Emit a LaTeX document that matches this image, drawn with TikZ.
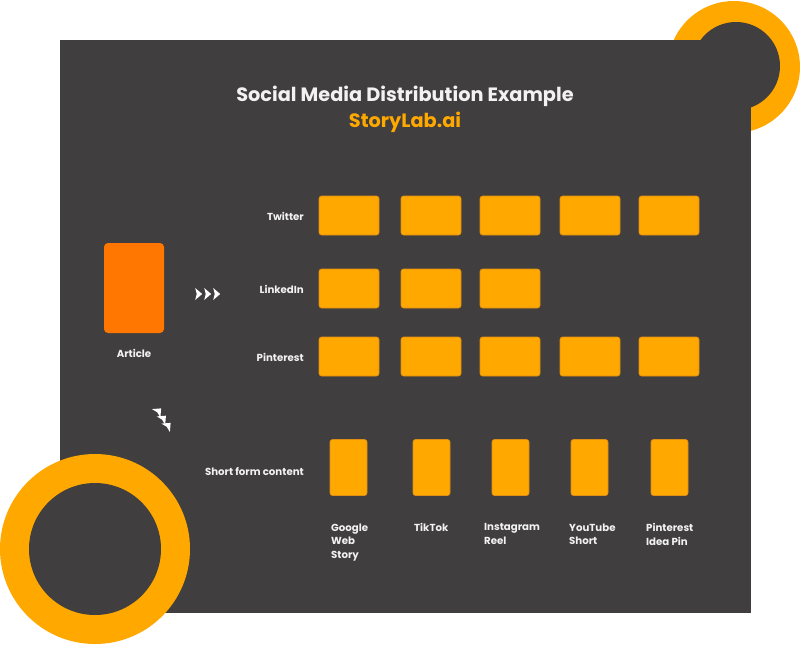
\documentclass[tikz,border=0pt]{standalone}
\usepackage{fontspec}
\setmainfont{Poppins}
\definecolor{bgdark}{RGB}{64,62,63}
\definecolor{boxor}{RGB}{255,168,0}
\definecolor{boxedge}{RGB}{222,142,18}
\definecolor{artor}{RGB}{255,119,0}
\definecolor{txt}{RGB}{242,242,242}
\tikzset{
  wbox/.style={fill=boxor, draw=boxedge, line width=0.6pt, rounded corners=2.5pt, minimum width=60pt, minimum height=39pt, inner sep=0pt},
  tbox/.style={fill=boxor, draw=boxedge, line width=0.6pt, rounded corners=2.5pt, minimum width=37pt, minimum height=56pt, inner sep=0pt},
  artbox/.style={fill=artor, rounded corners=4pt, minimum width=60pt, minimum height=90pt, inner sep=0pt},
  lbl/.style={text=txt, font=\fontsize{10.2}{13.4}\selectfont\bfseries, inner sep=0pt},
  sublbl/.style={text=txt, font=\fontsize{10.2}{13.4}\selectfont\bfseries, inner sep=0pt, align=left, anchor=north west},
  chev/.pic={\fill[white] (-3.3,-6) -- (3.7,0) -- (-3.3,6) -- (-1.8,0) -- cycle;}
}
\begin{document}
\begin{tikzpicture}[x=1pt,y=-1pt]
\useasboundingbox (0,0) rectangle (800,645);
% decorative circles and panel
\fill[boxor] (734,67) circle (66);
\fill[bgdark] (60,40) rectangle (751,613);
\fill[bgdark] (736,66) circle (44);
\fill[boxor] (95,549) circle (95);
\fill[bgdark] (95,549) circle (66);
% title
\node[text=txt, font=\fontsize{19.3}{21}\selectfont\bfseries, inner sep=0pt] (title) at (405,96) {Social Media Distribution Example};
\node[text=boxor, font=\fontsize{19.3}{21}\selectfont\bfseries, inner sep=0pt] (brand) at (405,122) {StoryLab.ai};
% article
\node[artbox] (article) at (134,288) {};
\node[lbl] (articlelbl) at (134,353) {Article};
% arrows
\pic at (198.5,294) {chev};
\pic at (207.5,294) {chev};
\pic at (216.5,294) {chev};
\pic[rotate=45] at (158.5,411) {chev};
\pic[rotate=45] at (163.3,418.3) {chev};
\pic[rotate=45] at (168,425.5) {chev};
% row labels
\node[lbl, anchor=east] (twlbl) at (304,216) {Twitter};
\node[lbl, anchor=east] (lilbl) at (304,289) {LinkedIn};
\node[lbl, anchor=east] (pilbl) at (304,357) {Pinterest};
\node[lbl, anchor=east] (sflbl) at (304,472) {Short form content};
% twitter row
\node[wbox] (tw1) at (349,215.5) {};
\node[wbox] (tw2) at (431,215.5) {};
\node[wbox] (tw3) at (510,215.5) {};
\node[wbox] (tw4) at (590,215.5) {};
\node[wbox] (tw5) at (669,215.5) {};
% linkedin row
\node[wbox] (li1) at (349,288.5) {};
\node[wbox] (li2) at (431,288.5) {};
\node[wbox] (li3) at (510,288.5) {};
% pinterest row
\node[wbox] (pi1) at (349,356.5) {};
\node[wbox] (pi2) at (431,356.5) {};
\node[wbox] (pi3) at (510,356.5) {};
\node[wbox] (pi4) at (590,356.5) {};
\node[wbox] (pi5) at (669,356.5) {};
% short form row
\node[tbox] (sf1) at (348.5,467.5) {};
\node[tbox] (sf2) at (431.5,467.5) {};
\node[tbox] (sf3) at (510.5,467.5) {};
\node[tbox] (sf4) at (589.5,467.5) {};
\node[tbox] (sf5) at (669.5,467.5) {};
\node[sublbl] (sf1l) at (331,523.5) {Google\\Web\\Story};
\node[sublbl] (sf2l) at (414,523.5) {TikTok};
\node[sublbl] (sf3l) at (484,523.5) {Instagram\\Reel};
\node[sublbl] (sf4l) at (569,523.5) {YouTube\\Short};
\node[sublbl] (sf5l) at (646,523.5) {Pinterest\\Idea Pin};
\end{tikzpicture}
\end{document}
